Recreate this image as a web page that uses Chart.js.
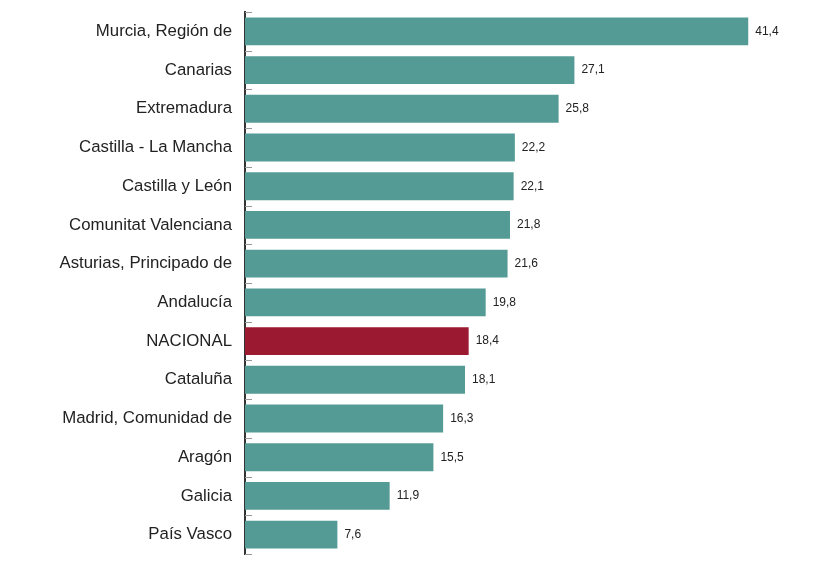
<!DOCTYPE html>
<html>
<head>
<meta charset="utf-8">
<script src="https://cdn.jsdelivr.net/npm/chart.js@4"></script>
<style>
  html, body { margin: 0; padding: 0; background: #fff; }
  #wrap { width: 837px; height: 568px; position: relative; }
</style>
</head>
<body>
<div id="wrap"><canvas id="tasaChart"></canvas></div>
<script>
const regiones = [
    'Murcia, Región de', 'Canarias', 'Extremadura', 'Castilla - La Mancha',
    'Castilla y León', 'Comunitat Valenciana', 'Asturias, Principado de',
    'Andalucía', 'NACIONAL', 'Cataluña', 'Madrid, Comunidad de', 'Aragón',
    'Galicia', 'País Vasco'
];
const valores = [41.4, 27.1, 25.8, 22.2, 22.1, 21.8, 21.6, 19.8, 18.4, 18.1, 16.3, 15.5, 11.9, 7.6];

const verde = '#559b95';
const rojo = '#9b1931';
const colores = regiones.map(r => r === 'NACIONAL' ? rojo : verde);

// small ticks at the category boundaries, on the inside of the axis
const marcas = {
    id: 'marcas',
    afterDatasetsDraw(chart) {
        const ctx = chart.ctx;
        const y = chart.scales.y;
        const x0 = chart.chartArea.left;
        const paso = y.getPixelForValue(1) - y.getPixelForValue(0);
        ctx.save();
        ctx.strokeStyle = '#999';
        ctx.lineWidth = 1;
        for (let i = 0; i <= regiones.length; i++) {
            const py = Math.round(y.getPixelForValue(i) - paso / 2) + 0.5;
            ctx.beginPath();
            ctx.moveTo(x0, py);
            ctx.lineTo(x0 + 7, py);
            ctx.stroke();
        }
        ctx.restore();
    }
};

const etiquetas = {
    id: 'etiquetas',
    afterDatasetsDraw(chart) {
        const ctx = chart.ctx;
        const meta = chart.getDatasetMeta(0);
        ctx.save();
        ctx.font = '12px "Liberation Sans", Arial, sans-serif';
        ctx.fillStyle = '#222';
        ctx.textBaseline = 'middle';
        meta.data.forEach((bar, i) => {
            ctx.fillText(valores[i].toFixed(1).replace('.', ','), bar.x + 7, bar.y);
        });
        ctx.restore();
    }
};

const tasaChart = new Chart(
    document.getElementById('tasaChart'),
    {
    type: 'bar',
    plugins: [marcas, etiquetas],
    options: {
        indexAxis: 'y',
        responsive: true,
        maintainAspectRatio: false,
        animation: false,
        layout: {
            padding: { left: 0, right: 45, top: 12, bottom: 14 }
        },
        scales: {
            x: {
                display: false,
                min: 0,
                max: 45
            },
            y: {
                afterFit(scale) {
                    scale.width = 245;
                    scale.paddingTop = 0;
                    scale.paddingBottom = 0;
                },
                grid: {
                    display: true,
                    drawOnChartArea: false,
                    drawTicks: false,
                    offset: true
                },
                border: {
                    display: true,
                    color: '#333',
                    width: 2
                },
                ticks: {
                    padding: 13,
                    color: '#222',
                    font: { family: '"Liberation Sans", Arial, sans-serif', size: 16.8 }
                }
            }
        },
        plugins: {
            legend: { display: false },
            tooltip: { enabled: false }
        }
    },
    data: {
        labels: regiones,
        datasets: [{
            data: valores,
            backgroundColor: colores,
            borderWidth: 0,
            categoryPercentage: 1,
            barPercentage: 0.72
        }]
    }
});
</script>
</body>
</html>
